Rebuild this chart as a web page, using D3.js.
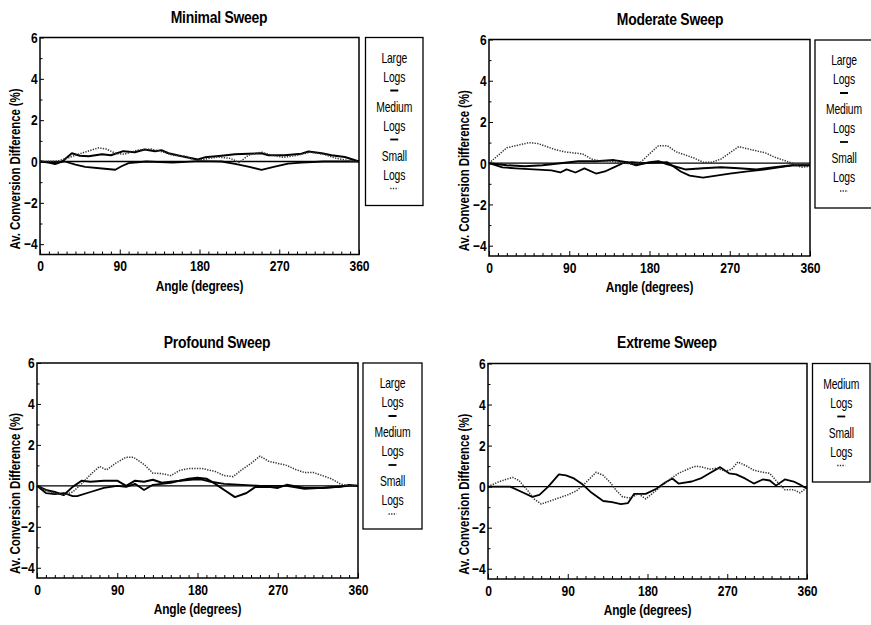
<!DOCTYPE html>
<html><head><meta charset="utf-8">
<script src="https://cdn.jsdelivr.net/npm/d3@7"></script>
<style>
body{margin:0;background:#fff}
text{fill:#000;font-family:"Liberation Sans",Arial,sans-serif}
</style>
</head><body>
<svg id="c" width="871" height="625"></svg>
<script>
// ---------- data ----------
const xTickValues = [0, 90, 180, 270, 360];
const yTickValues = [6, 4, 2, 0, -2, -4];
const xLabel = "Angle (degrees)";
const yLabel = "Av. Conversion Difference (%)";
const panelTitles = ["Minimal Sweep", "Moderate Sweep", "Profound Sweep", "Extreme Sweep"];
const threeNames = [["Large", "Logs"], ["Medium", "Logs"], ["Small", "Logs"]];
const twoNames = [["Medium", "Logs"], ["Small", "Logs"]];

// [angle, value] pairs
const minimalLarge = [[0,0],[10,-0.05],[17,-0.12],[25,0],[36,0.4],[45,0.28],[55,0.25],[70,0.35],[80,0.3],[94,0.5],[107,0.45],[118,0.58],[130,0.5],[137,0.55],[145,0.4],[160,0.25],[178,0.1],[186,0.2],[205,0.28],[220,0.35],[235,0.38],[250,0.4],[258,0.3],[276,0.3],[295,0.38],[303,0.48],[318,0.4],[329,0.3],[344,0.22],[360,0]];
const minimalMedium = [[0,0],[15,-0.05],[28,0],[40,-0.15],[51,-0.26],[73,-0.35],[85,-0.4],[92,-0.23],[100,-0.08],[120,0],[150,-0.05],[180,0.02],[205,0],[220,-0.12],[235,-0.25],[250,-0.4],[265,-0.25],[280,-0.1],[295,-0.05],[320,0],[360,0]];
const minimalSmall = [[0,0],[20,0.02],[30,0.15],[40,0.3],[54,0.5],[66,0.66],[75,0.6],[85,0.4],[95,0.35],[110,0.55],[125,0.6],[140,0.45],[150,0.3],[165,0.25],[175,0.05],[185,0.1],[200,0.22],[215,0.15],[225,-0.05],[235,0.3],[250,0.45],[262,0.3],[275,0.2],[290,0.3],[305,0.45],[320,0.35],[335,0.15],[350,0.02],[360,0]];

const moderateLarge = [[0,0],[20,-0.1],[40,-0.15],[60,-0.1],[80,0],[100,0.1],[120,0.1],[140,0.15],[155,0.05],[165,-0.1],[180,0.05],[190,0.1],[200,-0.05],[220,-0.3],[240,-0.25],[260,-0.2],[280,-0.25],[300,-0.3],[320,-0.2],[340,-0.1],[360,-0.1]];
const moderateMedium = [[0,0],[15,-0.2],[30,-0.25],[50,-0.3],[70,-0.35],[80,-0.45],[87,-0.3],[97,-0.45],[107,-0.25],[120,-0.5],[130,-0.4],[140,-0.2],[150,0],[160,0.05],[175,0],[200,0.05],[215,-0.4],[225,-0.6],[240,-0.7],[255,-0.6],[270,-0.5],[290,-0.4],[310,-0.3],[325,-0.2],[340,-0.1],[360,-0.1]];
const moderateSmall = [[0,0],[20,0.75],[30,0.85],[45,1.0],[55,0.95],[65,0.8],[75,0.65],[85,0.55],[95,0.5],[105,0.45],[115,0.2],[125,0.1],[135,0.1],[145,0.05],[160,-0.05],[170,0.05],[180,0.45],[190,0.85],[200,0.85],[210,0.55],[220,0.4],[230,0.25],[240,0.05],[250,0.05],[260,0.2],[270,0.5],[280,0.8],[290,0.7],[300,0.6],[310,0.5],[320,0.3],[330,0.15],[340,0],[350,-0.2],[360,-0.15]];

const profoundLarge = [[0,0],[10,-0.2],[20,-0.3],[30,-0.45],[40,-0.05],[50,0.25],[60,0.2],[75,0.25],[90,0.25],[100,0],[110,0.25],[120,0.2],[130,0.3],[140,0.15],[150,0.2],[160,0.25],[170,0.35],[180,0.4],[190,0.35],[200,0.1],[210,-0.2],[222,-0.55],[235,-0.35],[245,-0.05],[260,-0.05],[270,-0.1],[280,0.05],[300,-0.1],[320,-0.1],[350,0],[360,0]];
const profoundMedium = [[0,0],[10,-0.35],[20,-0.4],[30,-0.35],[40,-0.5],[45,-0.5],[60,-0.3],[75,-0.1],[90,0],[100,-0.05],[110,0.1],[120,-0.2],[130,0.05],[140,0.1],[150,0.15],[160,0.25],[175,0.3],[185,0.3],[195,0.2],[210,0.1],[230,0.05],[250,0],[280,0],[300,-0.15],[320,-0.1],[340,-0.05],[350,0.05],[360,0]];
const profoundSmall = [[0,0],[15,-0.3],[30,-0.45],[40,-0.3],[50,0.1],[60,0.55],[70,0.95],[78,0.78],[88,1.1],[100,1.4],[108,1.4],[120,1.05],[130,0.62],[140,0.6],[150,0.5],[160,0.75],[170,0.85],[185,0.85],[200,0.7],[210,0.5],[220,0.45],[230,0.8],[240,1.1],[250,1.45],[260,1.2],[270,1.1],[280,1.0],[290,0.8],[300,0.65],[310,0.65],[320,0.5],[330,0.35],[340,0.1],[350,0],[360,0]];

const extremeMedium = [[0,0],[25,0],[40,-0.3],[50,-0.5],[58,-0.4],[68,0],[80,0.6],[88,0.55],[97,0.4],[107,0.1],[117,-0.3],[130,-0.7],[140,-0.75],[150,-0.85],[158,-0.8],[165,-0.35],[178,-0.35],[190,-0.1],[200,0.2],[208,0.4],[215,0.15],[230,0.25],[240,0.4],[252,0.7],[262,0.95],[272,0.65],[280,0.6],[290,0.4],[300,0.15],[310,0.35],[318,0.3],[325,0.05],[335,0.35],[345,0.25],[352,0.1],[360,-0.1]];
const extremeSmall = [[0,0],[10,0.2],[20,0.35],[28,0.45],[35,0.3],[45,-0.2],[52,-0.6],[60,-0.85],[70,-0.7],[80,-0.55],[90,-0.4],[100,-0.2],[108,0.1],[115,0.4],[122,0.7],[130,0.55],[138,0.2],[145,-0.2],[152,-0.5],[160,-0.55],[170,-0.35],[178,-0.6],[185,-0.35],[195,0],[205,0.35],[215,0.65],[228,0.9],[235,1.0],[242,0.95],[250,0.85],[258,0.9],[268,0.75],[275,0.85],[282,1.2],[292,1.0],[300,0.8],[310,0.7],[318,0.65],[325,0.3],[335,-0.15],[345,-0.15],[352,-0.3],[360,-0.05]];

// ---------- styles & layout ----------
const NARROW = 0.82; // horizontal squeeze, mimics a narrow typeface
const styles = {
  Large:  {stroke:"#000", width:2.0, dash:null},
  Medium: {stroke:"#000", width:1.8, dash:null},
  Small:  {stroke:"#333", width:1.5, dash:"1.3,1.3"}
};

const panels = [
  {title:panelTitles[0], titleX:219, titleY:23, plot:[40,359,37.5,254.5], yLabX:15,
   legend:[365.5,37.5,57.5,168], names:threeNames, series:[minimalLarge,minimalMedium,minimalSmall]},
  {title:panelTitles[1], titleX:670, titleY:25, plot:[489,810,39.5,256], yLabX:464,
   legend:[815,40,58,168], names:threeNames, series:[moderateLarge,moderateMedium,moderateSmall]},
  {title:panelTitles[2], titleX:217, titleY:348, plot:[37,358,363,578], yLabX:15,
   legend:[363,363,59,166], names:threeNames, series:[profoundLarge,profoundMedium,profoundSmall]},
  {title:panelTitles[3], titleX:667, titleY:348, plot:[488,807,363.5,579], yLabX:464,
   legend:[812.5,363.5,57.5,118.5], names:twoNames, series:[extremeMedium,extremeSmall]}
];

const svg = d3.select("#c");

function ntext(g, x, y, str, size, bold, rot, sx) {
  return g.append("text")
    .attr("transform", `translate(${x},${y})` + (rot ? ` rotate(${rot})` : "") + ` scale(${sx || NARROW},1)`)
    .attr("text-anchor","middle").attr("font-size",size)
    .attr("font-weight", bold ? "bold" : "normal").text(str);
}

panels.forEach(p => {
  const [x0,x1,y0,y1] = p.plot;
  const x = d3.scaleLinear().domain([0,360]).range([x0,x1]);
  const y = d3.scaleLinear().domain([-4.5,6]).range([y1,y0]);
  const g = svg.append("g");

  // title
  ntext(g, p.titleX, p.titleY, p.title, 17, true).attr("letter-spacing",-0.3);

  // x axis minor/major ticks (inward)
  const xAxis = d3.axisBottom(x).tickValues(d3.range(0,361,10)).tickSize(-3).tickFormat(() => "");
  const gx = g.append("g").attr("transform",`translate(0,${y1})`).call(xAxis);
  gx.select(".domain").remove();
  gx.selectAll(".tick line").attr("stroke","#000").attr("stroke-width",1)
    .attr("y2", d => d % 90 === 0 ? -5 : -3);
  const xMajor = d3.axisBottom(x).tickValues(xTickValues).tickSize(0).tickPadding(6);
  const gxl = g.append("g").attr("transform",`translate(0,${y1})`).call(xMajor);
  gxl.select(".domain").remove();
  gxl.selectAll("text").attr("font-size",15.5).attr("font-weight","bold")
    .attr("font-family","Liberation Sans, Arial, sans-serif")
    .attr("fill","#000").attr("transform","scale(0.78,1)");

  // y axis ticks
  const yAxis = d3.axisLeft(y).tickValues(d3.range(-4,7,1)).tickSize(-3).tickFormat(()=>"");
  const gy = g.append("g").attr("transform",`translate(${x0},0)`).call(yAxis);
  gy.select(".domain").remove();
  gy.selectAll(".tick line").attr("stroke","#000").attr("stroke-width",1)
    .attr("x2", d => d % 2 === 0 ? 4 : 2.5);
  const yMajor = d3.axisLeft(y).tickValues(yTickValues).tickSize(0).tickPadding(3);
  const gyl = g.append("g").attr("transform",`translate(${x0},0)`).call(yMajor);
  gyl.select(".domain").remove();
  gyl.selectAll("text").attr("font-size",15).attr("font-weight","bold")
    .attr("font-family","Liberation Sans, Arial, sans-serif")
    .attr("fill","#000").attr("transform","scale(0.8,1)");

  // zero line
  g.append("line").attr("x1",x(0)).attr("x2",x(360)).attr("y1",y(0)).attr("y2",y(0))
    .attr("stroke","#000").attr("stroke-width",1.3);

  // series
  const line = d3.line().x(d => x(d[0])).y(d => y(d[1]));
  p.series.forEach((s,i) => {
    const st = styles[p.names[i][0]];
    g.append("path").datum(s).attr("d",line).attr("fill","none")
      .attr("stroke",st.stroke).attr("stroke-width",st.width)
      .attr("stroke-dasharray",st.dash).attr("stroke-linejoin","round");
  });

  // frame
  g.append("rect").attr("x",x0).attr("y",y0).attr("width",x1-x0).attr("height",y1-y0)
    .attr("fill","none").attr("stroke","#000").attr("stroke-width",1.5);

  // axis labels
  ntext(g, (x0+x1)/2, y1+36, xLabel, 14.5, true).attr("letter-spacing",-0.2);
  ntext(g, p.yLabX+5, (y0+y1)/2+23, yLabel, 14, true, -90).attr("letter-spacing",-0.1);

  // legend
  const [lx,ly,lw,lh] = p.legend;
  g.append("rect").attr("x",lx).attr("y",ly).attr("width",lw).attr("height",lh)
    .attr("fill","none").attr("stroke","#000").attr("stroke-width",1.3);
  const cx = lx + lw/2;
  p.names.forEach((nm,i) => {
    const top = ly + 20 + i*49;
    ntext(g, cx, top+5, nm[0], 14, false, 0, 0.74).attr("letter-spacing",-0.2);
    ntext(g, cx, top+24, nm[1], 14, false, 0, 0.74).attr("letter-spacing",-0.2);
    const st = styles[nm[0]];
    g.append("line").attr("x1",cx-4).attr("x2",cx+4).attr("y1",top+33).attr("y2",top+33)
      .attr("stroke",st.stroke).attr("stroke-width",st.width)
      .attr("stroke-dasharray",st.dash);
  });
});
</script>
</body></html>
